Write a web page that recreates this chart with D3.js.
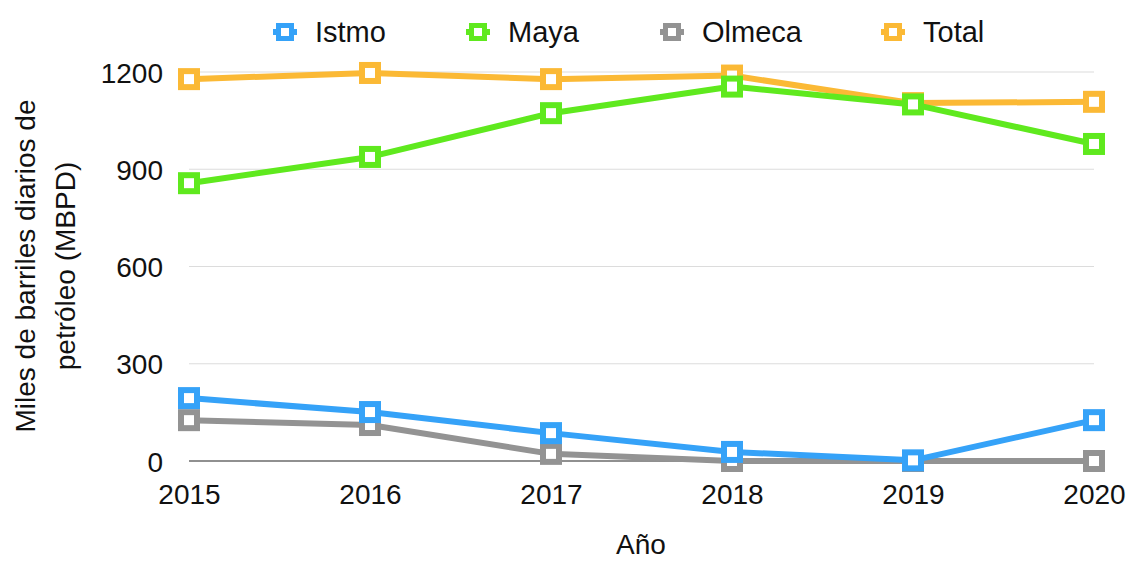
<!DOCTYPE html>
<html>
<head>
<meta charset="utf-8">
<script src="https://cdn.jsdelivr.net/npm/d3@7"></script>
<style>
  html, body { margin: 0; padding: 0; background: #fff; }
  svg text { font-family: "Liberation Sans", Arial, Helvetica, sans-serif; fill: #111; }
</style>
</head>
<body>
<svg id="chart" width="1131" height="561"></svg>
<script>
const years = ["2015", "2016", "2017", "2018", "2019", "2020"];
const istmo  = [194, 151, 86, 28, 2, 126];
const maya   = [857, 938, 1073, 1155, 1100, 978];
const olmeca = [126, 111, 22, 0, 0, 0];
const total  = [1178, 1197, 1178, 1189, 1104, 1108];
const yTicks = [0, 300, 600, 900, 1200];
const seriesNames = ["Istmo", "Maya", "Olmeca", "Total"];
const seriesColors = ["#35a2f8", "#5fe91e", "#939393", "#fbb935"];
const seriesValues = [istmo, maya, olmeca, total];

const svg = d3.select("#chart");
const x = d3.scalePoint().domain(years).range([189, 1094]);
const y = d3.scaleLinear().domain([0, 1200]).range([461, 72]);

// gridlines
svg.append("g").selectAll("line").data(yTicks.filter(d => d > 0)).join("line")
  .attr("x1", x.range()[0]).attr("x2", x.range()[1])
  .attr("y1", d => y(d)).attr("y2", d => y(d))
  .attr("stroke", "#dcdcdc").attr("stroke-width", 1.2);
// zero line
svg.append("line")
  .attr("x1", x.range()[0]).attr("x2", x.range()[1])
  .attr("y1", y(0)).attr("y2", y(0))
  .attr("stroke", "#222").attr("stroke-width", 1.2);

// y axis
const yAxis = d3.axisLeft(y).tickValues(yTicks).tickFormat(d3.format("d")).tickSize(0).tickPadding(0);
const gy = svg.append("g").attr("transform", "translate(163,0)").call(yAxis);
gy.select(".domain").remove();
gy.selectAll("text").attr("font-size", 28).attr("dy", "0.36em")
  .style("font-family", "'Liberation Sans', Arial, sans-serif").attr("fill", "#111");

// x axis
const xAxis = d3.axisBottom(x).tickSize(0).tickPadding(0);
const gx = svg.append("g").attr("transform", "translate(0,484)").call(xAxis);
gx.select(".domain").remove();
gx.selectAll("text").attr("font-size", 28).attr("dy", "0.73em")
  .style("font-family", "'Liberation Sans', Arial, sans-serif").attr("fill", "#111");

// axis titles
svg.append("text").attr("x", 641).attr("y", 554).attr("text-anchor", "middle")
  .attr("font-size", 28).text("Año");
const yt = svg.append("text").attr("transform", "translate(45,266) rotate(-90)")
  .attr("text-anchor", "middle").attr("font-size", 28);
yt.append("tspan").attr("x", 0).attr("y", -10).text("Miles de barriles diarios de");
yt.append("tspan").attr("x", 0).attr("y", 30).text("petróleo (MBPD)");

// series
const line = d3.line().x((d, i) => x(years[i])).y(d => y(d));
const order = [3, 2, 1, 0];
order.forEach(k => {
  svg.append("path").datum(seriesValues[k]).attr("d", line)
    .attr("fill", "none").attr("stroke", seriesColors[k]).attr("stroke-width", 6)
    .attr("stroke-linejoin", "round");
});
order.forEach(k => {
  svg.append("g").selectAll("rect").data(seriesValues[k]).join("rect")
    .attr("x", (d, i) => x(years[i]) - 8).attr("y", d => y(d) - 8)
    .attr("width", 16).attr("height", 16)
    .attr("fill", "#fff").attr("stroke", seriesColors[k]).attr("stroke-width", 6);
});

// legend
const legendX = [285, 478, 672, 893];
const lg = svg.append("g");
seriesNames.forEach((name, k) => {
  const cx = legendX[k], cy = 32;
  lg.append("line").attr("x1", cx - 12).attr("x2", cx + 12).attr("y1", cy).attr("y2", cy)
    .attr("stroke", seriesColors[k]).attr("stroke-width", 6);
  lg.append("rect").attr("x", cx - 6.5).attr("y", cy - 6.5).attr("width", 13).attr("height", 13)
    .attr("fill", "#fff").attr("stroke", seriesColors[k]).attr("stroke-width", 5);
  lg.append("text").attr("x", cx + 30).attr("y", cy + 10).attr("font-size", 29).text(name);
});
</script>
</body>
</html>
